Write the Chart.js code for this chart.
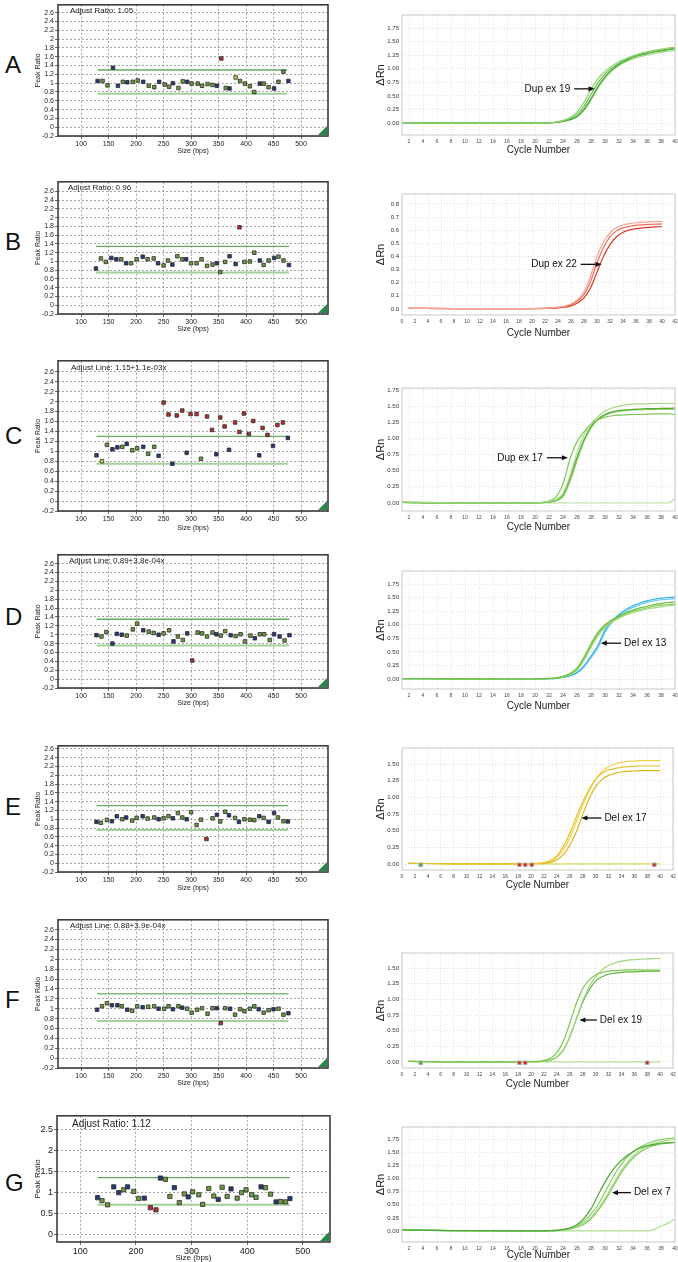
<!DOCTYPE html>
<html>
<head>
<meta charset="utf-8">
<title>Peak ratio and amplification panels</title>
<script src="https://cdn.jsdelivr.net/npm/chart.js@4.4.1/dist/chart.umd.min.js"></script>
<style>
  body { margin: 0; background: #fff; }
  #page { position: relative; width: 678px; height: 1262px; overflow: hidden; background: #fff; }
  #page canvas { position: absolute; }
  .row-letter { position: absolute; left: 5px; height: 28px; line-height: 28px; font: 24px "Liberation Sans", Arial, sans-serif; color: #111; }
</style>
</head>
<body>
<div id="page"></div>
<script>
// ---- peak ratio panels (left column) ----
// kind letters: g = green probe, b = blue probe, r = red (out of range), y = yellow
var sizeA = [130,139,148,158,167,176,184,194,203,213,223,233,242,252,260,267,277,285,293,301,312,320,330,339,347,355,363,370,381,389,398,407,415,425,432,441,451,459,468,477];
var ratioA = [1.05,1.05,0.95,1.35,0.94,1.03,1.02,1.03,1.06,1.03,0.94,0.91,1.03,0.97,0.92,1.00,0.89,1.04,1.03,0.99,0.99,0.94,0.98,0.96,0.94,1.56,0.89,0.88,1.13,1.05,0.99,0.93,0.80,0.99,0.99,0.91,0.88,1.03,1.26,1.05];
var kindA = 'bggbbgbggb' + 'ggbggbggbg' + 'ggggbrgbyg' + 'gggbggbggb';
var limitA = [1.30, 0.76];

var sizeB = [127,136,145,155,164,173,182,191,201,212,221,232,240,250,258,266,275,284,291,300,310,319,329,339,347,353,362,370,381,388,397,407,415,425,432,441,451,459,468,478];
var ratioB = [0.84,1.07,0.99,1.08,1.05,1.05,0.96,0.96,1.05,1.11,1.05,1.07,0.96,0.91,1.02,0.93,1.12,1.05,1.05,0.96,0.96,1.05,0.90,0.93,0.96,0.76,0.99,1.12,0.94,1.78,0.99,1.00,1.20,1.02,0.92,1.02,1.08,1.11,1.02,0.92];
var kindB = 'bggbbgbggb' + 'ggbggbggbg' + 'ggggbggbbr' + 'gggbggbggb';
var limitB = [1.345, 0.75];

var sizeC = [128,138,147,157,166,175,183,193,202,213,222,233,241,250,259,266,274,284,292,299,310,318,329,338,346,353,361,369,380,388,396,405,413,424,430,439,449,457,467,476];
var ratioC = [0.92,0.80,1.13,1.04,1.08,1.09,1.15,1.02,1.06,1.09,0.95,1.09,0.91,1.98,1.74,0.75,1.72,1.82,0.97,1.75,1.75,0.85,1.70,1.43,0.94,1.68,1.50,1.03,1.58,1.39,1.76,1.35,1.61,0.92,1.47,1.33,1.11,1.53,1.58,1.27];
var kindC = 'bygbbgbggb' + 'ggbrrbrrbr' + 'rgrrbrrbrr' + 'rrrbrrbrrb';
var limitC = [1.30, 0.75];

var sizeD = [128,137,146,157,165,174,183,194,202,213,223,232,241,250,260,268,276,285,293,302,312,320,329,339,346,354,362,372,381,390,398,408,416,425,433,443,451,461,470,479];
var ratioD = [0.99,0.96,1.06,0.80,1.02,1.00,0.98,1.12,1.25,1.10,1.07,1.04,1.00,1.03,1.10,0.85,0.96,0.88,1.03,0.42,1.05,1.03,0.96,1.05,1.01,0.98,1.08,0.99,0.97,1.01,0.85,0.98,0.92,1.01,1.01,0.88,1.01,0.96,0.87,0.99];
var kindD = 'bggbbbgggb' + 'ggbggbggbr' + 'ggggbggbgg' + 'ggbgggbbgb';
var limitD = [1.35, 0.755];

var sizeE = [128,136,147,156,165,175,182,193,201,212,221,233,241,250,259,267,276,284,292,300,310,318,328,339,347,353,362,369,380,387,397,407,415,424,432,441,451,458,468,476];
var ratioE = [0.94,0.92,0.985,0.955,1.067,1.00,1.04,0.97,1.03,1.067,1.015,1.04,1.00,1.02,1.07,1.02,1.14,1.04,1.00,1.16,0.87,0.99,0.55,1.02,1.10,0.95,1.17,1.09,1.03,0.94,1.00,0.99,0.98,1.07,1.03,0.94,1.14,1.04,0.955,0.95];
var kindE = 'bggbbgbggb' + 'ggbggbggbg' + 'ggrgbggbgb' + 'gggbgbbggb';
var limitE = [1.31, 0.755];

var sizeF = [129,138,147,156,166,174,184,193,202,212,222,233,241,251,259,267,277,284,293,301,311,320,330,339,347,354,362,371,380,389,397,407,415,423,432,441,450,459,468,477];
var ratioF = [0.98,1.05,1.11,1.07,1.07,1.05,0.98,0.96,1.05,1.03,1.04,1.05,1.00,1.00,1.05,0.99,1.05,1.02,1.00,0.92,0.98,1.01,0.90,1.01,1.01,0.71,1.01,1.00,0.88,0.99,0.95,1.00,1.05,0.99,0.92,0.97,0.99,1.00,0.88,0.91];
var kindF = 'bggbbgbggb' + 'ggbggbgbgg' + 'ggggbrgbgg' + 'gggbggbggb';
var limitF = [1.30, 0.75];

var sizeG = [131,139,149,160,169,178,185,196,205,215,226,236,244,253,261,269,278,287,294,302,313,320,331,340,348,355,364,371,382,390,398,408,416,425,433,442,452,460,469,477];
var ratioG = [0.87,0.80,0.70,1.13,0.99,1.06,1.13,1.02,0.85,0.86,0.63,0.58,1.34,1.31,0.90,1.11,0.75,0.96,0.89,1.01,0.94,0.71,1.09,0.91,0.83,1.12,0.90,1.08,0.86,0.99,1.06,0.94,0.88,1.13,1.11,0.955,0.77,0.78,0.77,0.85];
var kindG = 'bggbbgbggb' + 'rrbggbggbg' + 'ggggbggbgg' + 'gggbggbggb';
var limitG = [1.35, 0.70];

var notes = ['Adjust Ratio: 1.05', 'Adjust Ratio: 0.96', 'Adjust Line: 1.15+1.1e-03x', 'Adjust Line: 0.89+3.8e-04x', '', 'Adjust Line: 0.88+3.9e-04x', 'Adjust Ratio: 1.12'];
var limitSpans = [[130,475],[127,478],[128,476],[128,479],[128,476],[129,477],[131,477]];

var sizeTicks = [100,150,200,250,300,350,400,450,500];
var sizeTicksWide = [100,200,300,400,500];
var ratioTicks = [-0.2,0,0.2,0.4,0.6,0.8,1,1.2,1.4,1.6,1.8,2,2.2,2.4,2.6];
var ratioTicksWide = [0,0.5,1,1.5,2,2.5];

// ---- amplification panels (right column) ----
var cycles = [1,8,16,20,21,22,23,24,25,26,27,28,29,30,31,32,33,34,35,36,37,38,39,40];

var ampA = [
  [0.01,0,0,0,0,0.005,0.02,0.05,0.10,0.20,0.38,0.62,0.82,0.95,1.05,1.13,1.19,1.24,1.28,1.31,1.34,1.36,1.38,1.40],
  [0.01,0,0,0,0,0.005,0.015,0.04,0.08,0.16,0.31,0.53,0.74,0.90,1.01,1.10,1.17,1.22,1.26,1.29,1.32,1.34,1.36,1.38],
  [0.005,0,0,0,0,0.004,0.012,0.03,0.06,0.12,0.25,0.45,0.67,0.85,0.98,1.08,1.15,1.21,1.25,1.28,1.31,1.33,1.35,1.37],
  [0.005,0,0,0,0,0.004,0.01,0.03,0.06,0.11,0.23,0.42,0.64,0.82,0.96,1.06,1.13,1.18,1.22,1.25,1.28,1.30,1.32,1.34]
];
var ampB = [
  [0.005,0.003,0.003,0.003,0.004,0.006,0.009,0.014,0.022,0.038,0.07,0.13,0.25,0.40,0.51,0.58,0.62,0.64,0.65,0.657,0.661,0.664,0.666,0.668],
  [0.005,0.003,0.003,0.003,0.004,0.005,0.008,0.012,0.019,0.032,0.06,0.11,0.21,0.35,0.47,0.55,0.595,0.618,0.63,0.637,0.641,0.644,0.646,0.648],
  [0.005,0.003,0.003,0.003,0.003,0.004,0.006,0.009,0.014,0.024,0.045,0.085,0.16,0.28,0.40,0.49,0.55,0.585,0.603,0.612,0.618,0.622,0.625,0.627]
];
var ampC = [
  [0.02,0,0,0,0.01,0.02,0.05,0.15,0.42,0.78,1.05,1.22,1.34,1.42,1.47,1.50,1.52,1.53,1.535,1.535,1.54,1.54,1.54,1.54],
  [0.01,0,0,0,0.01,0.03,0.09,0.30,0.68,0.95,1.10,1.22,1.29,1.33,1.35,1.36,1.365,1.37,1.37,1.375,1.38,1.38,1.38,1.37],
  [0.01,0,0,0,0.005,0.015,0.04,0.12,0.38,0.70,0.98,1.18,1.30,1.37,1.41,1.43,1.44,1.45,1.455,1.46,1.46,1.465,1.465,1.47],
  [0.01,0,0,0,0.005,0.012,0.035,0.10,0.33,0.65,0.95,1.16,1.29,1.36,1.40,1.42,1.43,1.44,1.44,1.445,1.45,1.45,1.45,1.45],
  [0.01,0,0,0,0,0,0,0,0,0,0,0,0,0,0,0,0,0,0,0,0,0,0,0.07]
];
var ampD = [
  [0.005,0.003,0,0,0.005,0.01,0.02,0.05,0.10,0.20,0.40,0.65,0.86,1.00,1.09,1.16,1.22,1.27,1.31,1.34,1.37,1.39,1.41,1.42],
  [0.005,0.003,0,0,0.004,0.008,0.018,0.045,0.09,0.18,0.37,0.61,0.83,0.97,1.07,1.14,1.20,1.25,1.28,1.31,1.34,1.36,1.37,1.38],
  [0.005,0.003,0,0,0.004,0.008,0.016,0.04,0.08,0.16,0.34,0.58,0.80,0.95,1.05,1.12,1.18,1.22,1.26,1.29,1.31,1.33,1.35,1.36],
  [0.005,0.003,0,0,0.003,0.006,0.012,0.03,0.06,0.12,0.24,0.42,0.62,0.90,1.07,1.19,1.28,1.35,1.40,1.44,1.47,1.49,1.50,1.51],
  [0.005,0.003,0,0,0.003,0.006,0.012,0.028,0.055,0.11,0.22,0.39,0.58,0.86,1.04,1.16,1.25,1.32,1.37,1.41,1.44,1.46,1.47,1.48]
];
var ampE = [
  [0.01,0.003,0.003,0.005,0.01,0.02,0.05,0.12,0.26,0.46,0.70,0.93,1.12,1.27,1.36,1.41,1.43,1.45,1.46,1.465,1.47,1.47,1.47,1.47],
  [0.01,0.003,0.003,0.005,0.008,0.016,0.04,0.10,0.21,0.39,0.63,0.88,1.10,1.27,1.39,1.46,1.50,1.525,1.54,1.545,1.55,1.55,1.55,1.55],
  [0.01,0.003,0.003,0.004,0.006,0.01,0.025,0.06,0.14,0.28,0.48,0.74,0.98,1.16,1.27,1.33,1.36,1.38,1.39,1.395,1.40,1.40,1.40,1.40],
  [0.01,0.004,0.003,0.003,0.003,0.003,0.003,0.003,0.003,0.003,0.003,0.002,0.002,0.002,0.002,0.002,0.002,0.002,0.002,0.002,0.002,0.002,0.002,0.002]
];
var ampF = [
  [0.01,0.003,0.003,0.005,0.01,0.025,0.06,0.15,0.33,0.62,0.93,1.17,1.31,1.39,1.43,1.45,1.46,1.465,1.47,1.47,1.47,1.465,1.465,1.47],
  [0.01,0.003,0.003,0.004,0.006,0.012,0.03,0.08,0.19,0.40,0.68,0.97,1.20,1.36,1.47,1.54,1.58,1.61,1.625,1.635,1.64,1.645,1.65,1.655],
  [0.01,0.003,0.003,0.004,0.006,0.012,0.03,0.08,0.19,0.40,0.68,0.95,1.15,1.29,1.36,1.40,1.42,1.43,1.44,1.44,1.445,1.45,1.45,1.45],
  [0.01,0.004,0.003,0.003,0.003,0.003,0.003,0.003,0.003,0.003,0.003,0.002,0.002,0.002,0.002,0.002,0.002,0.002,0.002,0.002,0.002,0.002,0.002,0.002]
];
var ampG = [
  [0.02,0.005,0,0,0,0.005,0.01,0.03,0.06,0.12,0.24,0.42,0.68,0.93,1.14,1.30,1.42,1.51,1.58,1.62,1.65,1.67,1.68,1.69],
  [0.02,0.005,0,0,0,0.005,0.01,0.02,0.05,0.10,0.19,0.32,0.50,0.74,0.99,1.21,1.38,1.51,1.60,1.66,1.71,1.74,1.76,1.77],
  [0.02,0.005,0,0,0,0.004,0.008,0.02,0.04,0.08,0.15,0.26,0.42,0.62,0.85,1.08,1.28,1.43,1.54,1.62,1.67,1.70,1.73,1.74],
  [0.02,0.005,0,0,0,0.004,0.008,0.02,0.035,0.07,0.13,0.23,0.39,0.58,0.81,1.04,1.24,1.39,1.50,1.58,1.63,1.66,1.67,1.68],
  [0.02,0.005,0,0,0,0,0,0,0,0,0,0,0,0,0,0,0,0,0,0,0.03,0.09,0.15,0.23]
];

// threshold (Ct) markers on the baseline of E and F
var ctCyclesE = [2.9, 18.2, 19.1, 20.1, 39.1];
var ctKindE = 'grrrr';
var ctCyclesF = [2.9, 18.2, 19.1, 38.0];
var ctKindF = 'grrr';
var ctLevel = -0.012;

// arrow labels: text, arrow tail (cycle), arrow head (cycle), level
var arrowA = ['Dup ex 19', 25.6, 28.5, 0.63];
var arrowB = ['Dup ex 22', 27.5, 30.7, 0.34];
var arrowC = ['Dup ex 17', 21.7, 24.7, 0.70];
var arrowD = ['Del ex 13', 32.3, 29.4, 0.66];
var arrowE = ['Del ex 17', 30.9, 27.8, 0.69];
var arrowF = ['Del ex 19', 30.2, 27.5, 0.67];
var arrowG = ['Del ex 7', 33.7, 31.0, 0.73];

var cycleTicksOdd = [2,4,6,8,10,12,14,16,18,20,22,24,26,28,30,32,34,36,38,40];
var cycleTicksAll = [0,2,4,6,8,10,12,14,16,18,20,22,24,26,28,30,32,34,36,38,40,42];
var rnTicks = [0,0.25,0.5,0.75,1,1.25,1.5,1.75];
var rnTicksShort = [0,0.25,0.5,0.75,1,1.25,1.5];
var rnTicksRed = [0,0.1,0.2,0.3,0.4,0.5,0.6,0.7,0.8];

// ---- layout and styles ----
var FONT = '"Liberation Sans", Arial, sans-serif';
Chart.defaults.font.family = FONT;
Chart.defaults.color = '#222';

var pointFill = { g: '#6c9d3e', b: '#27397c', r: '#c02a2a', y: '#dccb45' };
var ctFill = { g: '#3fb23f', r: '#e42222' };

var leftRows = [
  { letter: 'A', y: 65,   top: 2,    bottom: 136,  xh: 19, yMax: 2.78, yMin: -0.2, noteDx: 12, noteDy: 6 },
  { letter: 'B', y: 242,  top: 179,  bottom: 314,  xh: 19, yMax: 2.82, yMin: -0.2, noteDx: 10, noteDy: 6 },
  { letter: 'C', y: 436,  top: 358,  bottom: 511,  xh: 21, yMax: 2.82, yMin: -0.2, noteDx: 13, noteDy: 7 },
  { letter: 'D', y: 617,  top: 552,  bottom: 688,  xh: 19, yMax: 2.80, yMin: -0.2, noteDx: 11, noteDy: 6 },
  { letter: 'E', y: 807,  top: 743,  bottom: 872,  xh: 20, yMax: 2.67, yMin: -0.2, noteDx: 12, noteDy: 6 },
  { letter: 'F', y: 1000, top: 917,  bottom: 1068, xh: 19, yMax: 2.80, yMin: -0.2, noteDx: 12, noteDy: 6 },
  { letter: 'G', y: 1183, top: 1113, bottom: 1242, xh: 21, yMax: 2.83, yMin: -0.19, noteDx: 15, noteDy: 8, wide: true }
];

var rightRows = [
  { top: 15,   bottom: 135,  xh: 21, xMin: 1, xMax: 40, yMin: -0.22, yMax: 1.99, xTicks: cycleTicksOdd, yTicks: rnTicks, digits: 2,
    colors: ['#8fd36c', '#62bd48', '#3f9f2f', '#a9dc8e'] },
  { top: 194,  bottom: 315,  xh: 24, xMin: 0, xMax: 42, yMin: -0.046, yMax: 0.876, xTicks: cycleTicksAll, yTicks: rnTicksRed, digits: 1,
    colors: ['#f5a493', '#ee6b58', '#de3726'] },
  { top: 388,  bottom: 511,  xh: 22, xMin: 1, xMax: 40, yMin: -0.124, yMax: 1.78, xTicks: cycleTicksOdd, yTicks: rnTicks, digits: 2,
    colors: ['#a4da7f', '#7ec655', '#4fae2f', '#92d16c', '#b9e29f'] },
  { top: 571,  bottom: 689,  xh: 23, xMin: 1, xMax: 40, yMin: -0.184, yMax: 1.99, xTicks: cycleTicksOdd, yTicks: rnTicks, digits: 2,
    colors: ['#6cbf3b', '#8ccf5e', '#a5da80', '#2fb4e6', '#6ccbef'] },
  { top: 748,  bottom: 870,  xh: 21, xMin: 0, xMax: 42, yMin: -0.09, yMax: 1.74, xTicks: cycleTicksAll, yTicks: rnTicksShort, digits: 2,
    colors: ['#e6c22a', '#efd24c', '#dcb51f', '#d6dc5c'] },
  { top: 953,  bottom: 1068, xh: 22, xMin: 0, xMax: 42, yMin: -0.096, yMax: 1.74, xTicks: cycleTicksAll, yTicks: rnTicksShort, digits: 2,
    colors: ['#7dc64f', '#9fd77a', '#5db43a', '#b5df95'] },
  { top: 1127, bottom: 1242, xh: 19, xMin: 1, xMax: 40, yMin: -0.21, yMax: 1.98, xTicks: cycleTicksOdd, yTicks: rnTicks, digits: 2,
    colors: ['#49a835', '#8fd06a', '#a8dc85', '#7cc552', '#b0e08f'] }
];

var peakData = [
  [sizeA, ratioA, kindA, limitA], [sizeB, ratioB, kindB, limitB], [sizeC, ratioC, kindC, limitC],
  [sizeD, ratioD, kindD, limitD], [sizeE, ratioE, kindE, limitE], [sizeF, ratioF, kindF, limitF],
  [sizeG, ratioG, kindG, limitG]
];
var ampData = [ampA, ampB, ampC, ampD, ampE, ampF, ampG];
var arrows = [arrowA, arrowB, arrowC, arrowD, arrowE, arrowF, arrowG];
var ctData = [null, null, null, null, [ctCyclesE, ctKindE], [ctCyclesF, ctKindF], null];

var page = document.getElementById('page');

function addCanvas(x, y, w, h) {
  var c = document.createElement('canvas');
  c.width = w; c.height = h;
  c.style.left = x + 'px'; c.style.top = y + 'px';
  c.style.width = w + 'px'; c.style.height = h + 'px';
  page.appendChild(c);
  return c;
}

function useTicks(list) {
  return function (scale) {
    scale.ticks = list.map(function (v) { return { value: v }; });
  };
}

function fixScale(w, h) {
  return function (scale) {
    if (w) scale.width = w;
    if (h) scale.height = h;
    scale.paddingLeft = 0; scale.paddingRight = 0;
    scale.paddingTop = 0; scale.paddingBottom = 0;
  };
}

// frame, note text, corner mark and arrow label, drawn over the plot
function decorPlugin(cfg) {
  return {
    id: 'decor',
    afterDraw: function (chart) {
      var a = chart.chartArea, ctx = chart.ctx;
      ctx.save();
      ctx.strokeStyle = cfg.frame;
      ctx.lineWidth = cfg.frameWidth;
      ctx.strokeRect(a.left, a.top, a.right - a.left, a.bottom - a.top);
      if (cfg.note) {
        ctx.fillStyle = '#222';
        ctx.font = cfg.noteFont;
        ctx.textBaseline = 'middle';
        ctx.fillText(cfg.note, a.left + cfg.noteDx, a.top + cfg.noteDy);
      }
      if (cfg.corner) {
        ctx.fillStyle = '#23894a';
        ctx.beginPath();
        ctx.moveTo(a.right - 1, a.bottom - 10);
        ctx.lineTo(a.right - 1, a.bottom - 1);
        ctx.lineTo(a.right - 10, a.bottom - 1);
        ctx.closePath();
        ctx.fill();
      }
      if (cfg.arrow) {
        var xs = chart.scales.x, ys = chart.scales.y;
        var tail = xs.getPixelForValue(cfg.arrow[1]);
        var head = xs.getPixelForValue(cfg.arrow[2]);
        var y = ys.getPixelForValue(cfg.arrow[3]);
        var dir = head > tail ? 1 : -1;
        ctx.strokeStyle = '#111'; ctx.fillStyle = '#111'; ctx.lineWidth = 1.3;
        ctx.beginPath(); ctx.moveTo(tail, y); ctx.lineTo(head - dir * 5, y); ctx.stroke();
        ctx.beginPath();
        ctx.moveTo(head, y);
        ctx.lineTo(head - dir * 6, y - 2.6);
        ctx.lineTo(head - dir * 6, y + 2.6);
        ctx.closePath(); ctx.fill();
        ctx.font = '10px ' + FONT;
        ctx.textBaseline = 'middle';
        if (dir > 0) { ctx.textAlign = 'right'; ctx.fillText(cfg.arrow[0], tail - 4, y); }
        else { ctx.textAlign = 'left'; ctx.fillText(cfg.arrow[0], tail + 3, y); }
      }
      ctx.restore();
    }
  };
}

function makePeakChart(i) {
  var row = leftRows[i], d = peakData[i];
  var boxL = row.wide ? 57 : 58, boxR = row.wide ? 330 : 328;
  var canvasX = boxL - 24, padTop = 2, padRight = 6;
  var canvas = addCanvas(canvasX, row.top - padTop, boxR + padRight - canvasX, row.bottom - row.top + padTop + row.xh);
  var tickSize = row.wide ? 9 : 7, titleSize = row.wide ? 8 : 7;
  var span = limitSpans[i];

  var points = d[0].map(function (s, k) { return { x: s, y: d[1][k] }; });
  var colors = d[2].split('').map(function (k) { return pointFill[k]; });

  var datasets = [
    { data: points, pointStyle: 'rect', pointRadius: row.wide ? 3.0 : 2.5, pointBackgroundColor: colors,
      pointBorderColor: '#2b2b2b', pointBorderWidth: 0.8, showLine: false },
    { data: [{ x: span[0], y: d[3][0] }, { x: span[1], y: d[3][0] }], showLine: true, pointRadius: 0,
      borderColor: '#62ad62', borderWidth: 1.4 },
    { data: [{ x: span[0], y: d[3][1] }, { x: span[1], y: d[3][1] }], showLine: true, pointRadius: 0,
      borderColor: '#a3d19b', borderWidth: 2 }
  ];

  new Chart(canvas.getContext('2d'), {
    type: 'scatter',
    data: { datasets: datasets },
    options: {
      responsive: false, animation: false, events: [],
      layout: { padding: { top: padTop, right: padRight, bottom: 0, left: 0 } },
      plugins: { legend: { display: false }, tooltip: { enabled: false } },
      scales: {
        x: {
          type: 'linear', min: 58, max: 549,
          afterBuildTicks: useTicks(row.wide ? sizeTicksWide : sizeTicks),
          afterFit: fixScale(0, row.xh),
          grid: { color: '#8f8f8f', lineWidth: 0.8, drawTicks: true, tickLength: 3, tickColor: '#444', tickBorderDash: [] },
          border: { display: false, dash: [2, 2] },
          ticks: { font: { size: tickSize }, color: '#222', padding: 1, autoSkip: false, maxRotation: 0 },
          title: { display: true, text: 'Size (bps)', font: { size: titleSize }, color: '#222', padding: 0 }
        },
        y: {
          min: row.yMin, max: row.yMax,
          afterBuildTicks: useTicks(row.wide ? ratioTicksWide : ratioTicks),
          afterFit: fixScale(24, 0),
          grid: { color: '#8f8f8f', lineWidth: 0.8, drawTicks: true, tickLength: 3, tickColor: '#444', tickBorderDash: [] },
          border: { display: false, dash: [2, 2] },
          ticks: { font: { size: tickSize }, color: '#222', padding: 1, autoSkip: false,
            callback: function (v) { return String(Math.round(v * 10) / 10); } },
          title: { display: true, text: 'Peak Ratio', font: { size: titleSize }, color: '#222', padding: 0 }
        }
      }
    },
    plugins: [decorPlugin({ frame: '#3d3d3d', frameWidth: 1.6, note: notes[i],
      noteFont: (row.wide ? '10px ' : '8px ') + FONT, noteDx: row.noteDx, noteDy: row.noteDy, corner: true })]
  });

  var lab = document.createElement('div');
  lab.className = 'row-letter';
  lab.style.top = (row.y - 14) + 'px';
  lab.textContent = row.letter;
  page.appendChild(lab);
}

function makeAmpChart(i) {
  var row = rightRows[i];
  var boxL = 402, boxR = 675;
  var canvasX = boxL - 28, padTop = 5, padRight = 3;
  var canvas = addCanvas(canvasX, row.top - padTop, boxR + padRight - canvasX, row.bottom - row.top + padTop + row.xh);

  var datasets = ampData[i].map(function (vals, k) {
    return {
      data: cycles.map(function (c, j) { return { x: c, y: vals[j] }; }),
      borderColor: row.colors[k], borderWidth: 1.2, pointRadius: 0,
      cubicInterpolationMode: 'monotone', fill: false
    };
  });
  if (ctData[i]) {
    var ct = ctData[i];
    datasets.unshift({
      data: ct[0].map(function (c) { return { x: c, y: ctLevel }; }),
      showLine: false, pointStyle: 'rect', pointRadius: 2.5,
      pointBackgroundColor: ct[1].split('').map(function (k) { return ctFill[k]; }),
      pointBorderColor: '#a8a8a8', pointBorderWidth: 1
    });
  }

  new Chart(canvas.getContext('2d'), {
    type: 'line',
    data: { datasets: datasets },
    options: {
      responsive: false, animation: false, events: [],
      layout: { padding: { top: padTop, right: padRight, bottom: 0, left: 0 } },
      plugins: { legend: { display: false }, tooltip: { enabled: false } },
      scales: {
        x: {
          type: 'linear', min: row.xMin, max: row.xMax,
          afterBuildTicks: useTicks(row.xTicks),
          afterFit: fixScale(0, row.xh),
          grid: { color: '#dadada', lineWidth: 0.8, drawTicks: false },
          border: { display: false, dash: [1, 2] },
          ticks: { font: { size: 5 }, color: '#444', padding: 4, autoSkip: false, maxRotation: 0 },
          title: { display: true, text: 'Cycle Number', font: { size: 10 }, color: '#222', padding: 0 }
        },
        y: {
          min: row.yMin, max: row.yMax,
          afterBuildTicks: useTicks(row.yTicks),
          afterFit: fixScale(28, 0),
          grid: { color: '#dadada', lineWidth: 0.8, drawTicks: false },
          border: { display: false, dash: [1, 2] },
          ticks: { font: { size: 6 }, color: '#333', padding: 3, autoSkip: false,
            callback: function (v) { return v.toFixed(row.digits); } },
          title: { display: true, text: '\u0394Rn', font: { size: 11 }, color: '#222', padding: 0 }
        }
      }
    },
    plugins: [decorPlugin({ frame: '#c9c9c9', frameWidth: 1, arrow: arrows[i] })]
  });
}

for (var i = 0; i < leftRows.length; i++) {
  makePeakChart(i);
  makeAmpChart(i);
}
</script>
</body>
</html>
